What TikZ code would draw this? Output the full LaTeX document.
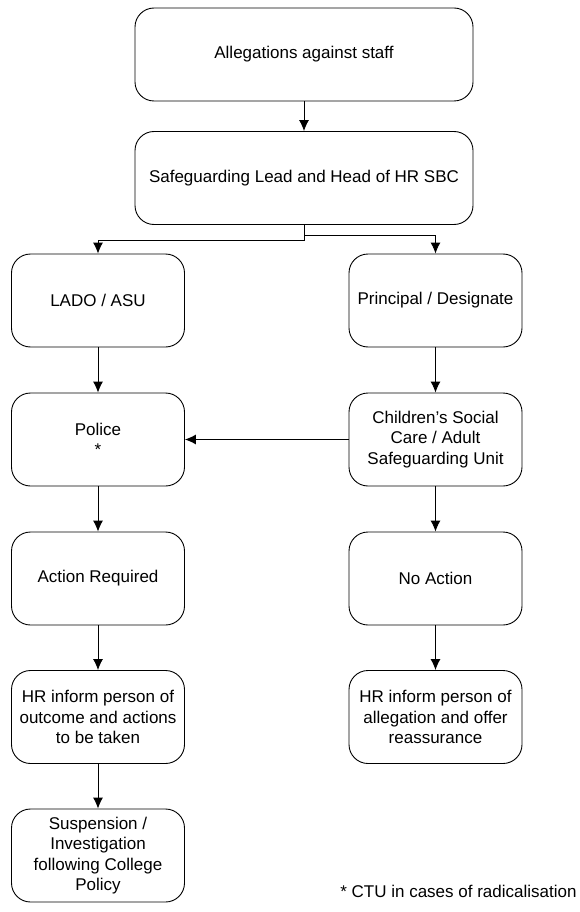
\documentclass[tikz,border=0pt]{standalone}
\usepackage{fontspec}
\setmainfont{Liberation Sans}
\usetikzlibrary{arrows.meta}
\tikzset{
  box/.style={draw, rounded corners=19pt, minimum width=173pt, minimum height=93pt,
    align=center, inner sep=2pt, font=\fontsize{17}{20.5}\selectfont},
  widebox/.style={box, minimum width=338pt}
}
\begin{document}
\begin{tikzpicture}[x=1pt, y=-1pt, >={Latex[length=11pt,width=10pt]}, line width=0.9pt]
\useasboundingbox (0,0) rectangle (579,912);

\node[widebox] (alleg) at (304,54.5) {Allegations against staff};
\node[widebox] (lead) at (304,178) {Safeguarding Lead and Head of HR SBC};

% left column
\node[box] (lado) at (98,300.5) {LADO / ASU};
\node[box] (police) at (98,439.5) {Police\\*};
\node[box] (action) at (98,578.5) {Action Required};
\node[box] (hrout) at (98,717) {HR inform person of\\outcome and actions\\to be taken};
\node[box] (susp) at (98,855.5) {Suspension /\\Investigation\\following College\\Policy};

% right column
\node[box] (princ) at (435.5,300.5) {Principal / Designate};
\node[box] (csc) at (435.5,439.5) {Children's Social\\Care / Adult\\Safeguarding Unit};
\node[box] (noact) at (435.5,578.5) {No Action};
\node[box] (hrall) at (435.5,717) {HR inform person of\\allegation and offer\\reassurance};

\node[anchor=east, inner sep=0pt, font=\fontsize{17}{20.5}\selectfont] (note) at (577,891) {* CTU in cases of radicalisation};

\draw[->] (alleg) -- (lead);
\draw[->] (lead.south) -- ++(0,15) -| (lado.north);
\draw[->] (lead.south) -- ++(0,10) -| (princ.north);
\draw[->] (lado) -- (police);
\draw[->] (police) -- (action);
\draw[->] (action) -- (hrout);
\draw[->] (hrout) -- (susp);
\draw[->] (princ) -- (csc);
\draw[->] (csc) -- (police);
\draw[->] (csc) -- (noact);
\draw[->] (noact) -- (hrall);

\end{tikzpicture}
\end{document}
